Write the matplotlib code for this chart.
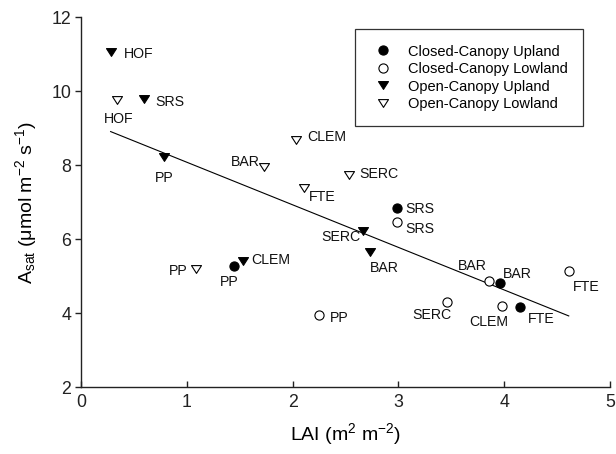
import numpy as np
import matplotlib
matplotlib.use("Agg")
import matplotlib.pyplot as plt
from matplotlib.path import Path

plt.rcParams['font.family'] = ['Liberation Sans', 'DejaVu Sans']
plt.rcParams['mathtext.default'] = 'regular'

# ---- data ----
cu_names = ['PP', 'SRS', 'BAR', 'FTE']
cu_lai = [1.45, 2.99, 3.96, 4.15]
cu_asat = [5.27, 6.84, 4.80, 4.15]

cl_names = ['PP', 'SRS', 'SERC', 'BAR', 'CLEM', 'FTE']
cl_lai = [2.25, 2.99, 3.46, 3.86, 3.98, 4.61]
cl_asat = [3.95, 6.46, 4.31, 4.86, 4.20, 5.14]

ou_names = ['HOF', 'SRS', 'PP', 'CLEM', 'SERC', 'BAR']
ou_lai = [0.28, 0.60, 0.78, 1.53, 2.67, 2.73]
ou_asat = [11.06, 9.78, 8.22, 5.40, 6.21, 5.65]

ol_names = ['HOF', 'BAR', 'CLEM', 'FTE', 'SERC', 'PP']
ol_lai = [0.34, 1.73, 2.03, 2.11, 2.53, 1.09]
ol_asat = [9.77, 7.95, 8.67, 7.37, 7.73, 5.20]

series_labels = ['Closed-Canopy Upland', 'Closed-Canopy Lowland',
                 'Open-Canopy Upland', 'Open-Canopy Lowland']

# ---- label offsets (pixels: dx right, dy down, alignment) ----
cu_off = [(-5, 14.5, 'center'), (8, 0, 'left'), (3, -10, 'left'), (8, 10.7, 'left')]
cl_off = [(11, 2, 'left'), (8, 6, 'left'), (5, 12, 'right'), (-2.7, -16.5, 'right'),
          (-13.7, 15, 'center'), (4, 15, 'left')]
ou_off = [(13, 1, 'left'), (11, 1.5, 'left'), (0.7, 20, 'center'), (8, -2, 'left'),
          (-3.3, 5, 'right'), (0, 15.5, 'left')]
ol_off = [(1.5, 18, 'center'), (-4.7, -6, 'right'), (11.7, -4, 'left'), (5, 7.5, 'left'),
          (10.7, -2, 'left'), (-9, 1.5, 'right')]

fig = plt.figure(figsize=(6.16, 4.54), dpi=100)
ax = fig.add_axes([81/616, 1-387/454, 529/616, 370/454])

tri = Path([(-1, 0.78), (1, 0.78), (0, -0.78), (-1, 0.78)],
           [Path.MOVETO, Path.LINETO, Path.LINETO, Path.CLOSEPOLY])

ms_c = 6.6
ms_t = 7.2
ax.plot(cu_lai, cu_asat, ls='none', marker='o', ms=ms_c, mfc='black', mec='black',
        mew=0.8, label=series_labels[0], zorder=3)
ax.plot(cl_lai, cl_asat, ls='none', marker='o', ms=ms_c, mfc='white', mec='black',
        mew=0.8, label=series_labels[1], zorder=3)
ax.plot(ou_lai, ou_asat, ls='none', marker=tri, ms=ms_t, mfc='black', mec='black',
        mew=0.8, label=series_labels[2], zorder=3)
ax.plot(ol_lai, ol_asat, ls='none', marker=tri, ms=ms_t, mfc='white', mec='black',
        mew=0.8, label=series_labels[3], zorder=3)

# regression over all points
all_x = np.array(cu_lai + cl_lai + ou_lai + ol_lai)
all_y = np.array(cu_asat + cl_asat + ou_asat + ol_asat)
slope, intercept = np.polyfit(all_x, all_y, 1)
xs = np.array([all_x.min(), all_x.max()])
ax.plot(xs, slope * xs + intercept, color='black', lw=0.8, zorder=2)

cap_half = 5.0
for names, xv, yv, offs in [(cu_names, cu_lai, cu_asat, cu_off),
                            (cl_names, cl_lai, cl_asat, cl_off),
                            (ou_names, ou_lai, ou_asat, ou_off),
                            (ol_names, ol_lai, ol_asat, ol_off)]:
    for n, x, y, (dx, dy, ha) in zip(names, xv, yv, offs):
        ax.annotate(n, (x, y), xytext=(dx, -(dy + cap_half)), textcoords='offset pixels',
                    ha=ha, va='baseline', fontsize=10.2, color='#111111')

ax.set_xlim(0, 5)
ax.set_ylim(2, 12)
ax.set_xticks([0, 1, 2, 3, 4, 5])
ax.set_yticks([2, 4, 6, 8, 10, 12])
ax.spines['top'].set_visible(False)
ax.spines['right'].set_visible(False)
for s in ['left', 'bottom']:
    ax.spines[s].set_linewidth(1.0)
    ax.spines[s].set_color('#222222')
ax.tick_params(axis='x', direction='in', length=4, width=1, labelsize=12.8, pad=5, colors='#222222')
ax.tick_params(axis='y', direction='out', length=4, width=1, labelsize=12.8, pad=3, colors='#222222')

ax.set_xlabel('LAI (m$^{2}$ m$^{-2}$)', fontsize=14, labelpad=7)
ax.set_ylabel('A$_{sat}$ (μmol m$^{-2}$ s$^{-1}$)', fontsize=14, labelpad=9)

leg = ax.legend(loc='upper left', bbox_to_anchor=(0.518, 0.967), fontsize=10.5,
                frameon=True, fancybox=False, edgecolor='#333333', framealpha=1,
                borderpad=1.05, labelspacing=0.24, handlelength=1.7, handletextpad=0.85,
                borderaxespad=0, markerscale=1.0)
leg.get_frame().set_linewidth(0.9)

fig.savefig('out.png', dpi=100)
